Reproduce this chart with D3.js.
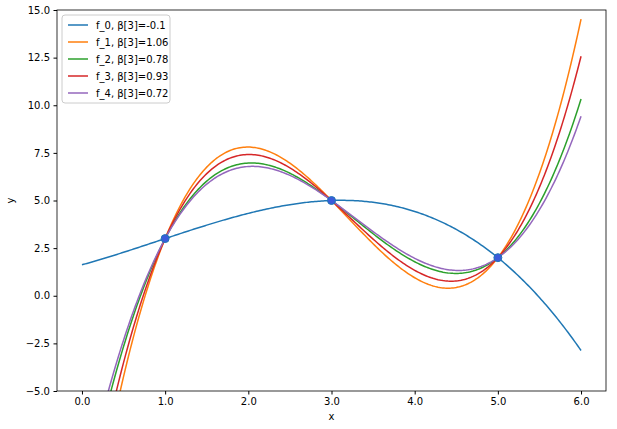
<!DOCTYPE html><html><head><meta charset="utf-8"><script src="https://cdn.jsdelivr.net/npm/d3@7"></script>
<style>body{margin:0;background:#fff}text{font-family:"DejaVu Sans",sans-serif}</style></head><body>
<svg id="c" width="617" height="429"></svg>
<script>
const pointsX=[1,3,5];
const pointsY=[3,5,2];
const betas=[-0.1,1.06,0.78,0.93,0.72];
const labels=["f_0, β[3]=-0.1","f_1, β[3]=1.06","f_2, β[3]=0.78","f_3, β[3]=0.93","f_4, β[3]=0.72"];
const colors=["#1f77b4","#ff7f0e","#2ca02c","#d62728","#9467bd"];
const xTicks=[0,1,2,3,4,5,6];
const yTicks=[-5,-2.5,0,2.5,5,7.5,10,12.5,15];
// quadratic through the three points (Lagrange) plus beta*(x-1)(x-3)(x-5)
function q(x){let s=0;for(let i=0;i<3;i++){let t=pointsY[i];for(let j=0;j<3;j++)if(j!==i)t*=(x-pointsX[j])/(pointsX[i]-pointsX[j]);s+=t;}return s;}
function f(b,x){return q(x)+b*(x-1)*(x-3)*(x-5);}
const L=57,R=606,T=10,B=391;
const x=d3.scaleLinear().domain([-0.3,6.3]).range([L,R]);
const y=d3.scaleLinear().domain([-5,15]).range([B,T]);
const svg=d3.select("#c");
svg.append("defs").append("clipPath").attr("id","cp").append("rect").attr("x",L).attr("y",T).attr("width",R-L).attr("height",B-T);
const g=svg.append("g").attr("clip-path","url(#cp)");
const xs=d3.range(0,6.0001,0.02);
betas.forEach((b,i)=>{
 g.append("path").attr("d",d3.line().x(d=>x(d)).y(d=>y(f(b,d)))(xs)).attr("fill","none").attr("stroke",colors[i]).attr("stroke-width",1.5);
});
pointsX.forEach((px,i)=>svg.append("circle").attr("cx",x(px)).attr("cy",y(pointsY[i])).attr("r",4).attr("fill","#3b5bdb").attr("stroke","#1f77b4"));
svg.append("g").attr("transform",`translate(0,${B})`).call(d3.axisBottom(x).tickValues(xTicks).tickSizeOuter(0).tickSize(3.5).tickPadding(3.5)).attr("font-size",10);
svg.append("g").attr("transform",`translate(${L},0)`).call(d3.axisLeft(y).tickValues(yTicks).tickFormat(d3.format(".1f")).tickSizeOuter(0).tickSize(3.5).tickPadding(3.5)).attr("font-size",10);
svg.selectAll(".domain").remove();
svg.append("rect").attr("x",L).attr("y",T).attr("width",R-L).attr("height",B-T).attr("fill","none").attr("stroke","#000").attr("stroke-width",0.8);
svg.append("text").attr("x",(L+R)/2).attr("y",420).attr("text-anchor","middle").attr("font-size",10).text("x");
svg.append("text").attr("transform",`translate(14,${(T+B)/2}) rotate(-90)`).attr("text-anchor","middle").attr("font-size",10).text("y");
const lg=svg.append("g").attr("transform",`translate(${L+5},${T+5})`);
lg.append("rect").attr("width",108).attr("height",88).attr("rx",3).attr("fill","#fff").attr("stroke","#ccc");
labels.forEach((t,i)=>{const yy=10+i*17;
 lg.append("line").attr("x1",6).attr("x2",26).attr("y1",yy).attr("y2",yy).attr("stroke",colors[i]).attr("stroke-width",1.5);
 lg.append("text").attr("x",34).attr("y",yy+3.5).attr("font-size",10).text(t);});
</script></body></html>
